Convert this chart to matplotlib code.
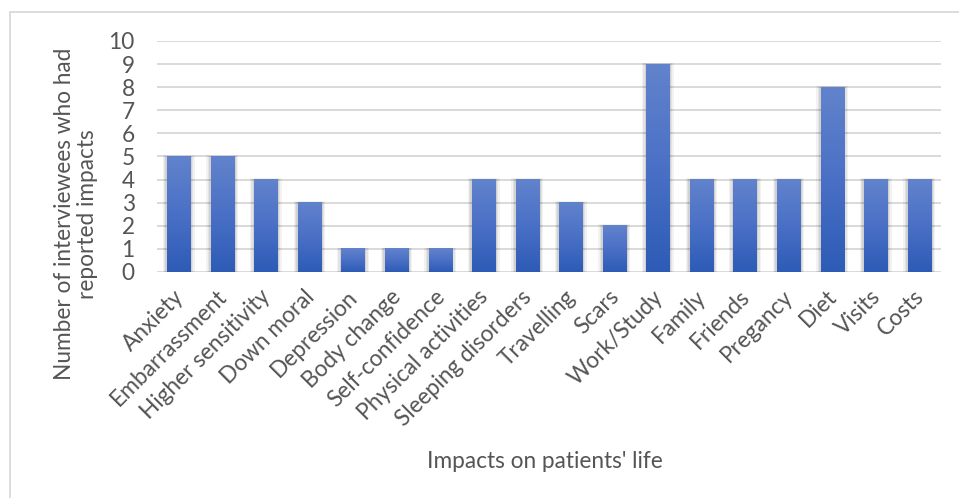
import numpy as np
import matplotlib
matplotlib.use("Agg")
import matplotlib.pyplot as plt
import matplotlib.transforms as mtransforms
from matplotlib.patches import Rectangle
from matplotlib.colors import LinearSegmentedColormap

categories = ["Anxiety", "Embarrassment", "Higher sensitivity", "Down moral",
              "Depression", "Body change", "Self-confidence", "Physical activities",
              "Sleeping disorders", "Travelling", "Scars", "Work/Study", "Family",
              "Friends", "Pregancy", "Diet", "Visits", "Costs"]
counts = [5, 5, 4, 3, 1, 1, 1, 4, 4, 3, 2, 9, 4, 4, 4, 8, 4, 4]
y_ticks = list(range(0, 11))

text_color = "#555555"
grid_color = "#d9d9d9"
fsize = 16.3
plt.rcParams["font.family"] = ["Lato", "DejaVu Sans"]

fig = plt.figure(figsize=(9.59, 4.98), dpi=100)
fig.patch.set_facecolor("white")

# outer chart-area border
fig.add_artist(Rectangle((10 / 959, -0.05), 1.2, 1 - 12 / 498 + 0.05,
                         transform=fig.transFigure, fill=False,
                         edgecolor="#d9d9d9", linewidth=1.3))

ax = fig.add_axes([157 / 959, 1 - 272 / 498, (941 - 157) / 959, (272 - 41) / 498])
n = len(categories)

for t in y_ticks:
    ax.axhline(t, color=grid_color, linewidth=1.4, zorder=0)

cmap = LinearSegmentedColormap.from_list("bar", ["#2d5bb6", "#4a70c6", "#6283cc"])
grad = np.linspace(0, 1, 256).reshape(-1, 1)
width = 0.53
for i, v in enumerate(counts):
    # soft shadow
    for k, a in zip([0.10, 0.07, 0.04], [0.05, 0.06, 0.08]):
        ax.add_patch(Rectangle((i - width / 2 - k, 0), width + 2 * k, v + k * 0.6,
                               facecolor="black", edgecolor="none", alpha=a, zorder=1))
    ax.imshow(grad, cmap=cmap, aspect="auto", origin="lower",
              extent=(i - width / 2, i + width / 2, 0, v), zorder=2)
ax.set_xlim(-0.5, n - 0.5)
ax.set_ylim(0, 10)

for s in ax.spines.values():
    s.set_visible(False)
ax.set_yticks(y_ticks)
ax.set_yticklabels([str(t) for t in y_ticks], fontsize=fsize, color=text_color)
ax.set_xticks(range(n))
ax.set_xticklabels(categories, rotation=45, ha="right", rotation_mode="anchor",
                   fontsize=fsize, color=text_color)
ax.tick_params(axis="both", length=0)
ax.tick_params(axis="y", pad=16)
ax.tick_params(axis="x", pad=8)
shift = mtransforms.ScaledTranslation(-6 / 100, -3 / 100, fig.dpi_scale_trans)
for lbl in ax.get_xticklabels():
    lbl.set_transform(lbl.get_transform() + shift)

fig.text(76 / 959, 1 - 214 / 498, "Number of interviewees who had\nreported impacts",
         rotation=90, ha="center", va="center", fontsize=fsize, color=text_color,
         linespacing=1.15)
fig.text(545 / 959, 1 - 461 / 498, "Impacts on patients' life", ha="center",
         va="center", fontsize=fsize, color=text_color)

fig.savefig("out.png", dpi=100, facecolor="white")
